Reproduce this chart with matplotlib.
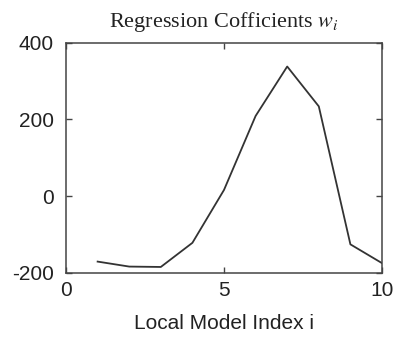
import matplotlib
matplotlib.use("Agg")
import matplotlib.pyplot as plt

# regression coefficient per local model
model_index = [1, 2, 3, 4, 5, 6, 7, 8, 9, 10]
coefficients = [-171, -184, -185, -122, 16, 209, 338, 234, -126, -175]

x_ticks = [0, 5, 10]
y_ticks = [-200, 0, 200, 400]

plt.rcParams['font.family'] = ['Liberation Sans', 'DejaVu Sans']
plt.rcParams['mathtext.fontset'] = 'stix'
plt.rcParams['axes.unicode_minus'] = False

fig = plt.figure(figsize=(3.93, 3.42), dpi=100)
ax = fig.add_axes([0.168, 0.2026, 0.804, 0.6724])

ax.plot(model_index, coefficients, color='#333333', linewidth=1.3)

ax.set_xlim(0, 10)
ax.set_ylim(-200, 400)
ax.set_xticks(x_ticks)
ax.set_yticks(y_ticks)
ax.tick_params(direction='in', top=True, right=True, length=4, width=1,
               color='#444444', labelsize=15, labelcolor='#222222')
ax.tick_params(axis='x', pad=6)
ax.tick_params(axis='y', pad=9)
for s in ax.spines.values():
    s.set_color('#444444')
    s.set_linewidth(1.1)

ax.set_title('Regression Cofficients $w_i$', family='Liberation Serif',
             fontsize=16, color='#222222', pad=11)
ax.set_xlabel('Local Model Index i', fontsize=15, color='#222222', labelpad=10)

fig.savefig('out.png', dpi=100)
